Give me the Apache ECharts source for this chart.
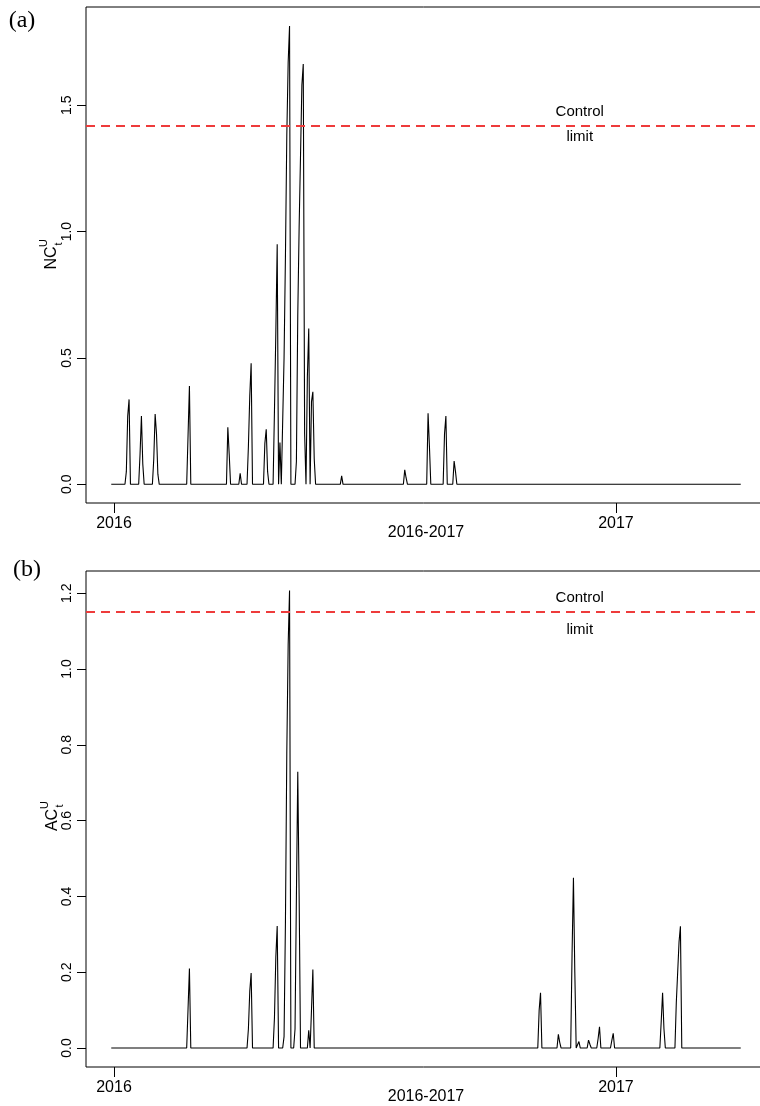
<!DOCTYPE html>
<html><head><meta charset="utf-8">
<script src="https://cdn.jsdelivr.net/npm/echarts@6/dist/echarts.min.js"></script>
<style>html,body{margin:0;padding:0;background:#fff;overflow:hidden}#c{width:760px;height:1106px}</style>
</head><body><div id="c"></div><script>
// ---- data (day index from 1 Jan 2016) ----
const ncDays = [-2,
  8,9,10,11,12,
  18,19,20,21,22,
  28,29,30,31,32,33,
  53,54,55,56,
  82,83,84,85,
  91,92,93,
  97,98,99,100,101,
  109,110,111,112,113,
  116,117,118,119,120,121,122,
  123,124,125,126,127,128,129,
  132,133,134,135,136,137,138,139,140,141,142,143,144,145,146,147,
  165,166,167,
  211,212,213,214,
  228,229,230,231,
  240,241,242,243,
  247,248,249,250,
  457];
const ncValues = [0,
  0,0.05,0.27,0.336,0,
  0,0.12,0.27,0.08,0,
  0,0.1,0.278,0.2,0.04,0,
  0,0.194,0.389,0,
  0,0.226,0.12,0,
  0,0.043,0,
  0,0.15,0.35,0.479,0,
  0,0.162,0.218,0.05,0,
  0,0.29,0.6,0.95,0,0.165,0,
  0,0.5,0.9,1.38,1.67,1.814,0,
  0,0.09,0.67,1.02,1.3,1.58,1.663,0.2,0,0.426,0.617,0,0.327,0.366,0.1,0,
  0,0.033,0,
  0,0.057,0.025,0,
  0,0.281,0.15,0,
  0,0.2,0.27,0,
  0,0.092,0.05,0,
  0];
const acDays = [-2,
  53,54,55,56,
  97,98,99,100,101,
  116,117,118,119,120,
  123,124,125,126,127,128,129,
  131,132,133,134,135,136,
  141,142,143,144,145,146,
  309,310,311,312,
  323,324,325,326,
  333,334,335,336,337,
  338,339,340,
  345,346,347,348,
  352,353,354,355,
  362,363,364,365,
  398,399,400,401,402,
  409,410,411,412,413,414,
  457];
const acValues = [0,
  0,0.104,0.21,0,
  0,0.05,0.15,0.198,0,
  0,0.08,0.24,0.322,0,
  0,0.03,0.33,0.78,1.065,1.207,0,
  0,0.05,0.4,0.729,0.4,0,
  0,0.047,0,0.1,0.207,0,
  0,0.1,0.146,0,
  0,0.036,0.015,0,
  0,0.25,0.449,0.2,0,
  0,0.017,0,
  0,0.021,0.01,0,
  0,0.025,0.056,0,
  0,0.02,0.039,0,
  0,0.07,0.146,0.05,0,
  0,0.12,0.2,0.28,0.321,0,
  0];
const ncLimit = 1.418;
const acLimit = 1.149;
const yearTickDays = [0, 366];
const yearTickLabels = ['2016', '2017'];
const ncTicks = [0, 0.5, 1.0, 1.5];
const acTicks = [0, 0.2, 0.4, 0.6, 0.8, 1.0, 1.2];
const xName = '2016-2017';
const annotDay = 339.6;

const FONT = 'Liberation Sans, Arial, sans-serif';
const zip = (d, v) => d.map((x, i) => [x, v[i]]);

function xAxis(gi) {
  return {
    type: 'value', gridIndex: gi, min: -20.41, max: 475.4, position: 'bottom',
    axisLine: {show: false, onZero: false}, splitLine: {show: false},
    axisTick: {show: true, customValues: yearTickDays, length: 10, lineStyle: {color: '#000', width: 1}},
    axisLabel: {customValues: yearTickDays, formatter: v => yearTickLabels[yearTickDays.indexOf(v)],
      fontSize: 16, color: '#000', fontFamily: FONT, margin: 13},
    name: xName, nameLocation: 'middle', nameGap: 22, nameMoveOverlap: false,
    nameTextStyle: {fontSize: 16, color: '#000', fontFamily: FONT}
  };
}
function yAxis(gi, min, max, ticks) {
  return {
    type: 'value', gridIndex: gi, min: min, max: max, position: 'left',
    axisLine: {show: false, onZero: false}, splitLine: {show: false},
    axisTick: {show: true, customValues: ticks, length: 9, lineStyle: {color: '#000', width: 1}},
    axisLabel: {customValues: ticks, rotate: 90, formatter: v => v.toFixed(1),
      fontSize: 14, color: '#000', fontFamily: FONT, margin: 12}
  };
}
function series(gi, data, limit) {
  return {
    type: 'line', xAxisIndex: gi, yAxisIndex: gi, data: data,
    showSymbol: false, symbol: 'none', lineStyle: {color: '#000', width: 1.1},
    silent: true, animation: false,
    markLine: {silent: true, symbol: 'none', label: {show: false},
      lineStyle: {color: '#ee3b3b', type: [9, 6], width: 2},
      data: [{yAxis: limit}]}
  };
}

const chart = echarts.init(document.getElementById('c'));
chart.setOption({
  animation: false,
  backgroundColor: '#fff',
  grid: [
    {left: 86, top: 7, width: 680, height: 496, show: true, borderColor: '#000', borderWidth: 1,
      outerBoundsMode: 'none', containLabel: false},
    {left: 86, top: 571, width: 680, height: 496, show: true, borderColor: '#000', borderWidth: 1,
      outerBoundsMode: 'none', containLabel: false}
  ],
  xAxis: [xAxis(0), xAxis(1)],
  yAxis: [yAxis(0, -0.074, 1.889, ncTicks), yAxis(1, -0.0501, 1.2586, acTicks)],
  series: [series(0, zip(ncDays, ncValues), ncLimit), series(1, zip(acDays, acValues), acLimit)]
});

const pA = chart.convertToPixel({gridIndex: 0}, [annotDay, ncLimit]);
const pB = chart.convertToPixel({gridIndex: 1}, [annotDay, acLimit]);
function txt(x, y, s, size, fam) {
  return {type: 'text', x: x, y: y, style: {text: s, font: size + 'px ' + (fam || FONT), fill: '#000',
    textAlign: 'center', textVerticalAlign: 'middle'}};
}
function yName(cx, cy, main) {
  return {type: 'group', x: cx, y: cy, rotation: Math.PI / 2, children: [
    txt(0, 0, main, 16),
    txt(15, -8, 'U', 11),
    txt(14, 7, 't', 11)
  ]};
}
chart.setOption({graphic: [
  txt(22, 21, '(a)', 24, 'Liberation Serif, Times New Roman, serif'),
  txt(27, 570, '(b)', 24, 'Liberation Serif, Times New Roman, serif'),
  txt(pA[0], pA[1] - 14, 'Control', 15), txt(pA[0], pA[1] + 11, 'limit', 15),
  txt(pB[0], pB[1] - 15, 'Control', 15), txt(pB[0], pB[1] + 17, 'limit', 15),
  yName(52, 258, 'NC'),
  yName(53, 820, 'AC')
]});
</script></body></html>
